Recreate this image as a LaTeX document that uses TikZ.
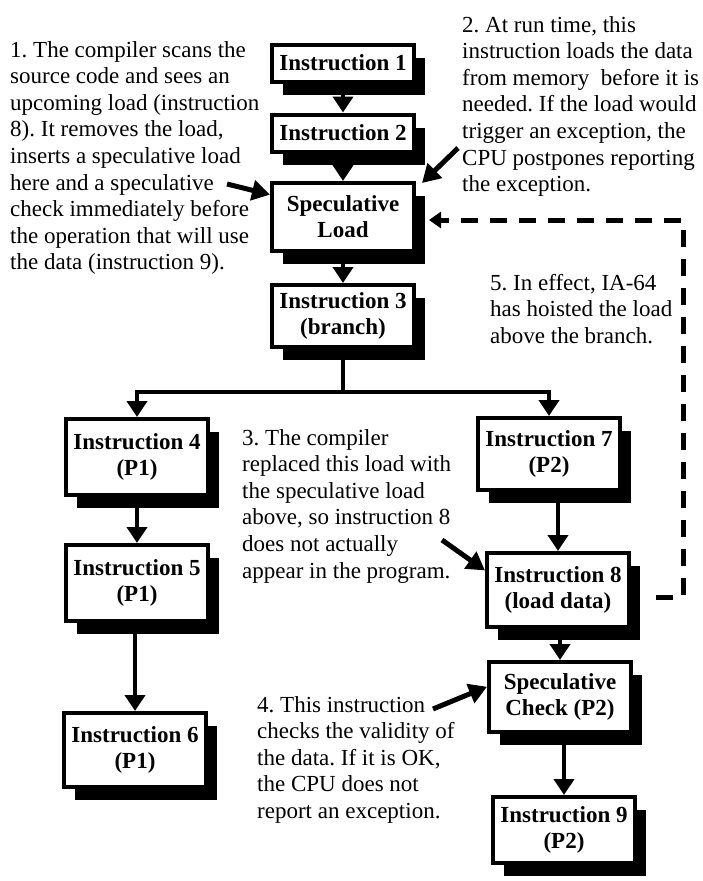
\documentclass[tikz,border=0pt]{standalone}
\usepackage{fontspec}
\setmainfont{Liberation Serif}
\usetikzlibrary{arrows.meta,shadows}
\frenchspacing

\begin{document}
\begin{tikzpicture}[x=1pt,y=-1pt,
  instr/.style={draw,line width=4pt,fill=white,align=center,
    font=\bfseries\fontsize{23}{26}\selectfont,minimum width=142pt,
    inner xsep=5pt,inner ysep=4pt,
    drop shadow={shadow xshift=11pt,shadow yshift=-13pt,fill=black,opacity=1}},
  note/.style={anchor=north west,inner sep=0pt,align=left,
    font=\fontsize{23}{26.6}\selectfont},
  flow/.style={line width=4pt,-{Triangle[length=16pt,width=20pt]}},
  callout/.style={line width=5pt,-{Triangle[length=18pt,width=20pt]}}]
\useasboundingbox (0,0) rectangle (702,881);

% main column
\node[instr,minimum height=37pt] (i1) at (343,63) {Instruction 1};
\node[instr,minimum height=37pt] (i2) at (343,133) {Instruction 2};
\node[instr,minimum height=68pt] (sload) at (343,217) {Speculative\\Load};
\node[instr,minimum height=62pt] (i3) at (343,316) {Instruction 3\\(branch)};
% P1 side
\node[instr,minimum height=76pt] (i4) at (137,457) {Instruction 4\\(P1)};
\node[instr,minimum height=76pt] (i5) at (137,583) {Instruction 5\\(P1)};
\node[instr,minimum height=74pt] (i6) at (135,750) {Instruction 6\\(P1)};
% P2 side
\node[instr,minimum height=72pt] (i7) at (549,454) {Instruction 7\\(P2)};
\node[instr,minimum height=74pt] (i8) at (558,590) {Instruction 8\\(load data)};
\node[instr,minimum height=70pt] (scheck) at (560,697) {Speculative\\Check (P2)};
\node[instr,minimum height=66pt] (i9) at (564,830) {Instruction 9\\(P2)};

\draw[flow] (i1) -- (i2);
\draw[flow] (i2) -- (sload);
\draw[flow] (sload) -- (i3);
\coordinate (split) at (343,392);
\draw[line width=4pt] (i3.south) -- (split);
\draw[flow] (split) -| (i4.north);
\draw[flow] (split) -| (i7.north);
\draw[flow] (i4) -- (i5);
\draw[flow] (i6.north |- i5.south) -- (i6.north);
\draw[flow] (i8.north |- i7.south) -- (i8.north);
\draw[flow] (scheck.north |- i8.south) -- (scheck.north);
\draw[flow] (i9.north |- scheck.south) -- (i9.north);

% hoisted load
\coordinate (hoist) at (683,597);
\draw[line width=5pt,dash pattern=on 17pt off 12pt,-{Triangle[length=12pt,width=16pt]}]
  ([xshift=25pt]i8.east |- hoist) -- (hoist) |- ([shift={(13pt,-3pt)}]sload.east);

% notes
\node[note] (n1) at (10,41) {1. The compiler scans the\\source code and sees an\\upcoming load (instruction\\8). It removes the load,\\inserts a speculative load\\here and a speculative\\check immediately before\\the operation that will use\\the data (instruction 9).};
\node[note] (n2) at (462,16) {2. At run time, this\\instruction loads the data\\from memory\ \ before it is\\needed. If the load would\\trigger an exception, the\\CPU postpones reporting\\the exception.};
\node[note] (n3) at (242,429) {3. The compiler\\replaced this load with\\the speculative load\\above, so instruction 8\\does not actually\\appear in the program.};
\node[note] (n4) at (257,696) {4. This instruction\\checks the validity of\\the data. If it is OK,\\the CPU does not\\report an exception.};
\node[note] (n5) at (490,274) {5. In effect, IA-64\\has hoisted the load\\above the branch.};

\coordinate (c1) at (227,184);
\coordinate (c2) at (458,148);
\coordinate (c3) at (442,540);
\coordinate (c4) at (433,709);
\draw[callout] (c1) -- (sload.163);
\draw[callout] (c2) -- ([shift={(6pt,-2pt)}]sload.north east);
\draw[callout] (c3) -- (i8.165);
\draw[callout] (c4) -- (scheck.172);
\end{tikzpicture}
\end{document}
